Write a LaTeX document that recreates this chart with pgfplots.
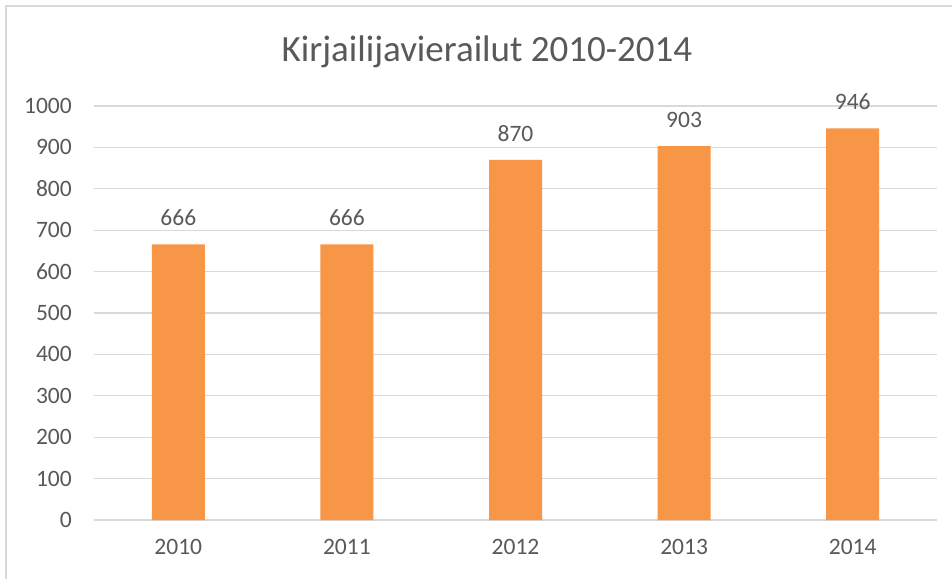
\documentclass[border=0pt]{standalone}
\usepackage{pgfplots}
\pgfplotsset{compat=1.18}
\usepackage{fontspec}
\setmainfont{Carlito}[Numbers=Monospaced]
\definecolor{barorange}{HTML}{F79646}
\definecolor{txtgray}{HTML}{595959}
\definecolor{gridgray}{HTML}{D9D9D9}
\begin{document}
\begin{tikzpicture}[x=1pt,y=1pt]
\useasboundingbox (0,0) rectangle (952,578);
\fill[white] (0,0) rectangle (952,578);
\begin{scope}
\clip (0,0) rectangle (952,578);
\draw[gridgray, line width=1.5pt] (6,-10) rectangle (970,572);
\end{scope}
\node[text=txtgray, font=\fontsize{37}{44}\selectfont, anchor=base] at (487,516) {Kirjailijavierailut 2010-2014};
\begin{axis}[
  at={(94pt,58pt)}, anchor=south west,
  scale only axis, width=843pt, height=414pt,
  xmin=-0.5, xmax=4.5, ymin=0, ymax=1000,
  ytick={0,100,...,1000},
  xtick=data, xticklabels={2010,2011,2012,2013,2014},
  axis line style={draw=none},
  major tick length=0pt,
  ymajorgrids, grid style={gridgray, line width=1.2pt},
  tick label style={text=txtgray, font=\fontsize{23.5}{28}\selectfont, inner sep=0pt},
  /pgf/number format/assume math mode=true,
  /pgf/number format/1000 sep={},
  yticklabel style={xshift=-22pt},
  xticklabel style={yshift=-19pt},
  nodes near coords,
  nodes near coords style={text=txtgray, font=\fontsize{23.5}{28}\selectfont, inner sep=0pt, anchor=south, yshift=18pt},
  clip=false,
]
\addplot[ybar, bar width=53pt, fill=barorange, draw=none] coordinates {(0,666) (1,666) (2,870) (3,903) (4,946)};
\end{axis}
\end{tikzpicture}
\end{document}
